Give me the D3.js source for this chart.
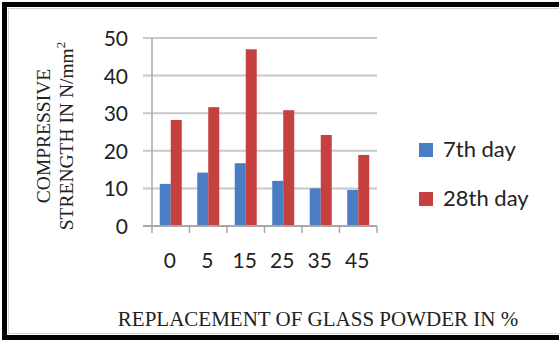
<!DOCTYPE html>
<html lang="en">
<head>
<meta charset="UTF-8">
<title>Compressive strength</title>
<script src="https://cdnjs.cloudflare.com/ajax/libs/d3/7.8.5/d3.min.js"></script>
<style>
  body { margin: 0; background: #fff; }
  svg { display: block; }
</style>
</head>
<body>
<svg id="chart" width="559" height="342"></svg>
<script>
const categories = ["0", "5", "15", "25", "35", "45"];
const seriesNames = ["7th day", "28th day"];
const day7 = [11.2, 14.2, 16.7, 12.0, 10.0, 9.6];
const day28 = [28.2, 31.6, 47.0, 30.8, 24.2, 18.9];
const yTicks = [0, 10, 20, 30, 40, 50];
const colors = ["#4a7ec4", "#c6403f"];

const svg = d3.select("#chart");
const W = 559, H = 342;

// frame
svg.append("rect").attr("x", 0).attr("y", 0).attr("width", W).attr("height", H).attr("fill", "#fff");
svg.append("rect").attr("x", 4.5).attr("y", 4.5).attr("width", W + 10).attr("height", 333)
    .attr("fill", "none").attr("stroke", "#000").attr("stroke-width", 5);
svg.append("rect").attr("x", 8.5).attr("y", 8.5).attr("width", W + 10).attr("height", 325)
    .attr("fill", "none").attr("stroke", "#d4d4d4").attr("stroke-width", 1);

const plotL = 152, plotR = 377, plotT = 38, plotB = 226;

const x = d3.scaleBand().domain(categories).range([plotL, plotR]).paddingInner(0).paddingOuter(0);
const y = d3.scaleLinear().domain([0, 50]).range([plotB, plotT]);
const barW = 11;

// gridlines
svg.append("g").selectAll("line").data(yTicks).join("line")
    .attr("x1", plotL - 9).attr("x2", plotR)
    .attr("y1", d => y(d)).attr("y2", d => y(d))
    .attr("stroke", "#c8c8c8").attr("stroke-width", 2);

// bars
const data = categories.map((c, i) => ({ c, v: [day7[i], day28[i]] }));
const groups = svg.append("g").selectAll("g").data(data).join("g");
groups.selectAll("rect").data(d => d.v.map((v, k) => ({ c: d.c, v, k }))).join("rect")
    .attr("x", d => x(d.c) + x.bandwidth() / 2 - barW + d.k * barW)
    .attr("y", d => y(d.v))
    .attr("width", barW)
    .attr("height", d => y(0) - y(d.v))
    .attr("fill", d => colors[d.k]);

// axes lines
svg.append("line").attr("x1", plotL).attr("x2", plotL).attr("y1", plotT).attr("y2", plotB)
    .attr("stroke", "#a8a8a8").attr("stroke-width", 1.5);
svg.append("line").attr("x1", plotL - 9).attr("x2", plotR).attr("y1", plotB).attr("y2", plotB)
    .attr("stroke", "#a8a8a8").attr("stroke-width", 2);
svg.append("g").selectAll("line").data(categories.concat(["end"])).join("line")
    .attr("x1", (d, i) => plotL + i * x.bandwidth()).attr("x2", (d, i) => plotL + i * x.bandwidth())
    .attr("y1", plotB).attr("y2", plotB + 7)
    .attr("stroke", "#a8a8a8").attr("stroke-width", 1.5);

// tick labels
const tickFont = "Lato, 'Open Sans', sans-serif";
svg.append("g").selectAll("text").data(yTicks).join("text")
    .attr("x", 128).attr("y", d => y(d) + 8)
    .attr("text-anchor", "end")
    .attr("font-family", tickFont).attr("font-size", 21).attr("fill", "#222")
    .text(d => d);
svg.append("g").selectAll("text").data(categories).join("text")
    .attr("x", d => x(d) + x.bandwidth() / 2 - 1).attr("y", 268)
    .attr("text-anchor", "middle")
    .attr("font-family", tickFont).attr("font-size", 21).attr("fill", "#222")
    .text(d => d);

// legend
const legend = svg.append("g").selectAll("g").data(seriesNames).join("g")
    .attr("transform", (d, i) => `translate(419, ${143 + i * 49})`);
legend.append("rect").attr("width", 14).attr("height", 14).attr("fill", (d, i) => colors[i]);
legend.append("text").attr("x", 24).attr("y", 14)
    .attr("font-family", tickFont).attr("font-size", 22).attr("fill", "#222")
    .text(d => d);

// axis titles
const serif = "'Liberation Serif', 'DejaVu Serif', serif";
svg.append("text")
    .attr("x", 318).attr("y", 326)
    .attr("text-anchor", "middle")
    .attr("font-family", serif).attr("font-size", 21).attr("fill", "#222")
    .text("REPLACEMENT OF GLASS POWDER IN %");

const yTitle = svg.append("text")
    .attr("transform", "translate(50, 136) rotate(-90)")
    .attr("text-anchor", "middle")
    .attr("font-family", serif).attr("font-size", 19.5).attr("fill", "#222");
yTitle.append("tspan").attr("x", 0).attr("y", 0).text("COMPRESSIVE");
const l2 = yTitle.append("tspan").attr("x", 0).attr("y", 23);
l2.append("tspan").text("STRENGTH  IN N/mm");
l2.append("tspan").attr("dy", -8).attr("font-size", 13).text("2");
</script>
</body>
</html>
